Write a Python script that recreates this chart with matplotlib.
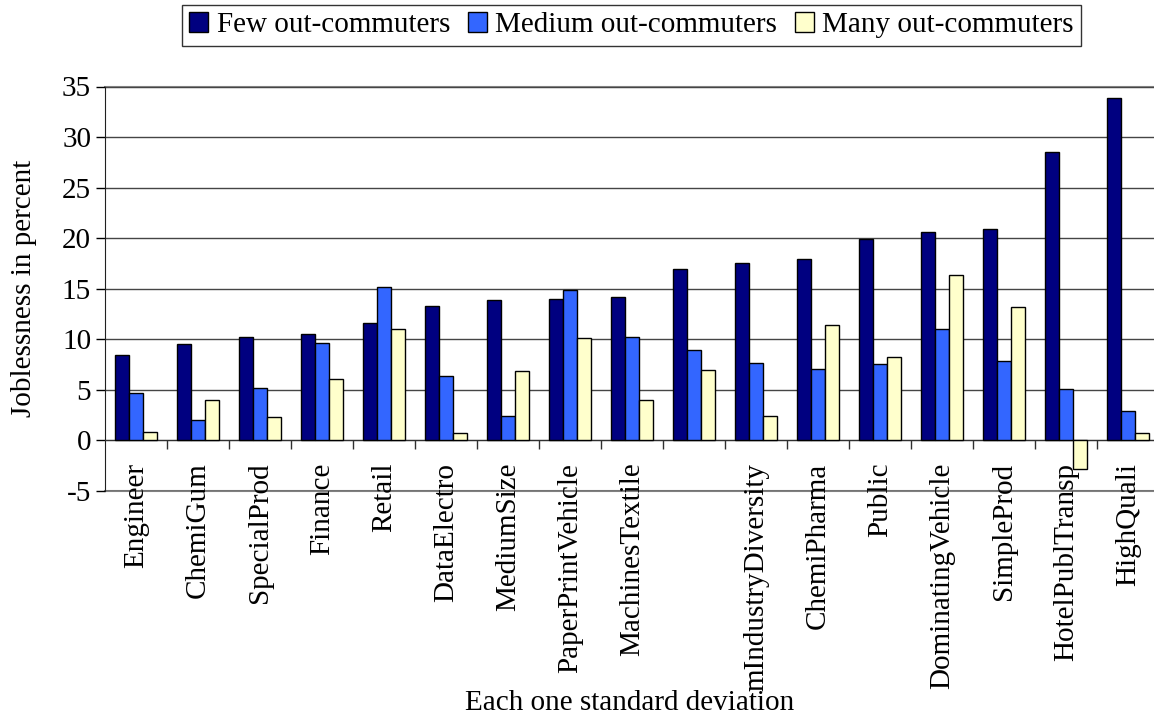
import numpy as np
import matplotlib
matplotlib.use("Agg")
import matplotlib.pyplot as plt

plt.rcParams['font.family'] = ['Liberation Serif', 'DejaVu Serif']

# --- data
regions = ["Engineer", "ChemiGum", "SpecialProd", "Finance", "Retail",
           "DataElectro", "MediumSize", "PaperPrintVehicle", "MachinesTextile",
           "", "mIndustryDiversity", "ChemiPharma", "Public",
           "DominatingVehicle", "SimpleProd", "HotelPublTransp", "HighQuali"]

few = [8.4, 9.5, 10.2, 10.5, 11.6, 13.3, 13.9, 14.0, 14.2,
       17.0, 17.5, 17.9, 19.9, 20.6, 20.9, 28.5, 33.9]
medium = [4.7, 2.0, 5.2, 9.6, 15.2, 6.4, 2.4, 14.9, 10.2,
          8.9, 7.7, 7.1, 7.6, 11.0, 7.9, 5.1, 2.9]
many = [0.8, 4.0, 2.3, 6.1, 11.0, 0.7, 6.9, 10.1, 4.0,
        7.0, 2.4, 11.4, 8.3, 16.4, 13.2, -2.8, 0.7]

series_names = ["Few out-commuters", "Medium out-commuters", "Many out-commuters"]
colors = ["#000080", "#3366FF", "#FFFFCC"]
y_ticks = np.arange(-5, 36, 5)


def main():
    fig = plt.figure(figsize=(11.54, 7.15), dpi=100)
    # plot area runs a few pixels past the right edge of the figure
    ax = fig.add_axes([105/1154, 1 - 491/715, 1054/1154, 404.5/715])

    x = np.arange(len(regions))
    w = 1 / 4.5  # gap width 150 %
    bars = []
    for k, (vals, name, col) in enumerate(zip([few, medium, many], series_names, colors)):
        b = ax.bar(x + (k - 1) * w, vals, width=w, color=col, edgecolor="black",
                   linewidth=1, label=name, zorder=3)
        bars.append(b)

    ax.set_xlim(-0.5, len(regions) - 0.5)
    ax.set_ylim(-5, 35)
    ax.set_yticks(y_ticks)
    ax.set_yticklabels([str(v) for v in y_ticks], fontsize=21)
    ax.yaxis.grid(True, color="#454545", linewidth=1, zorder=0)
    ax.tick_params(axis="y", length=6.5, width=1, direction="out", pad=3.5)

    # category labels hang from the zero line, tick marks between the groups
    ax.spines["bottom"].set_position(("data", 0))
    ax.spines["bottom"].set_color("#303030")
    ax.set_xticks(x)
    ax.set_xticklabels(regions, rotation=90, fontsize=21)
    ax.set_xticks(np.arange(len(regions) - 1) + 0.5, minor=True)
    ax.tick_params(axis="x", which="major", length=0, pad=16)
    ax.tick_params(axis="x", which="minor", length=6.5, width=1, color="#303030")
    ax.spines["top"].set_visible(False)
    ax.spines["right"].set_visible(False)
    ax.spines["left"].set_color("#202020")
    ax.axhline(-5, color="#808080", linewidth=1.5, zorder=1, clip_on=False)
    ax.axhline(35, color="#808080", linewidth=1.5, zorder=1, clip_on=False)

    fig.text(24/1154, 1 - 288/715, "Joblessness in percent", rotation=90,
             ha="center", va="center", fontsize=21)
    fig.text(630/1154, 5/715, "Each one standard deviation",
             ha="center", va="baseline", fontsize=21)

    leg = fig.legend(handles=bars, labels=series_names, ncol=3, loc="upper center",
                     bbox_to_anchor=(631.5/1154, 1 - 5/715), fontsize=21,
                     frameon=True, fancybox=False, handlelength=0.65,
                     handleheight=0.65, handletextpad=0.3, columnspacing=0.6,
                     borderpad=0.25, borderaxespad=0)
    leg.get_frame().set_edgecolor("black")
    leg.get_frame().set_linewidth(1)

    fig.savefig("out.png", dpi=100)


if __name__ == "__main__":
    main()
